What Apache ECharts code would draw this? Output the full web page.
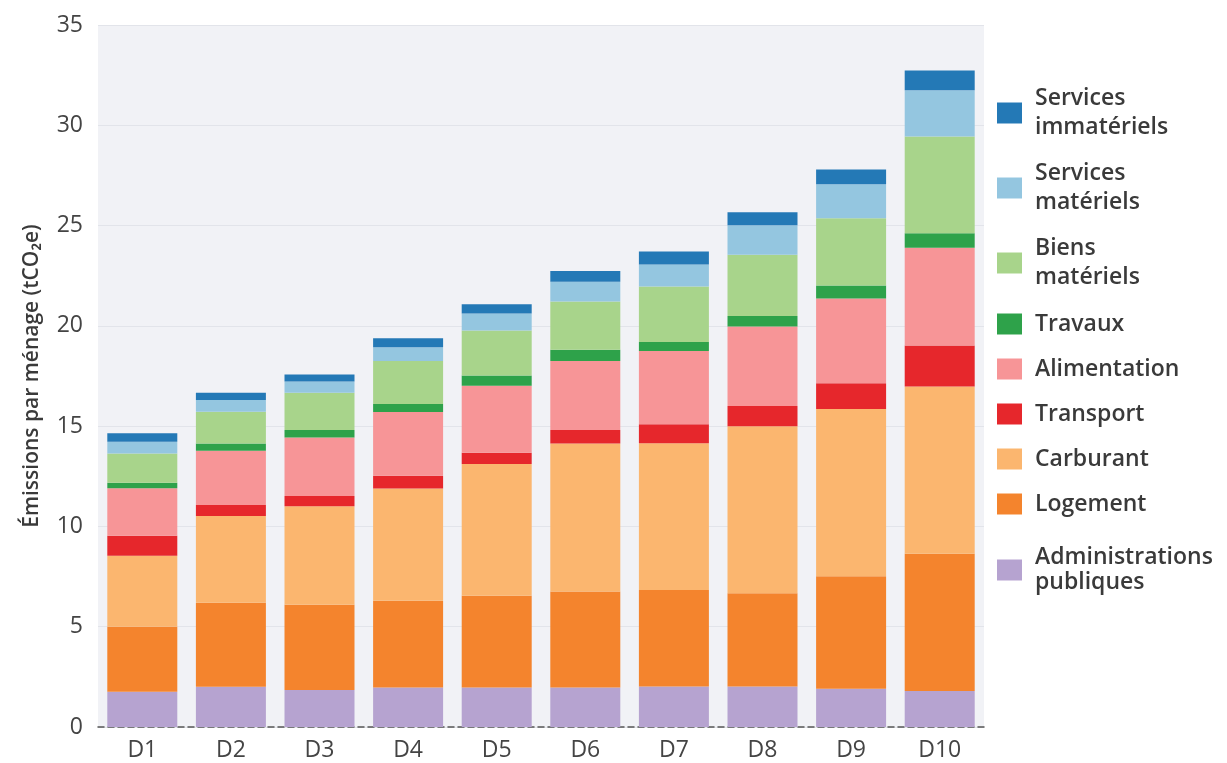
<!DOCTYPE html>
<html>
<head>
<meta charset="utf-8">
<script src="https://cdn.jsdelivr.net/npm/echarts@6/dist/echarts.min.js"></script>
<style>html,body{margin:0;padding:0;background:#fff;}#c{width:1227px;height:763px;}</style>
</head>
<body>
<div id="c"></div>
<script>
const categories = ['D1','D2','D3','D4','D5','D6','D7','D8','D9','D10'];
const admin       = [1.76, 2.01, 1.85, 1.97, 1.97, 1.97, 2.02, 2.02, 1.91, 1.80];
const logement    = [3.24, 4.19, 4.24, 4.33, 4.58, 4.78, 4.81, 4.65, 5.60, 6.84];
const carburant   = [3.54, 4.32, 4.92, 5.59, 6.56, 7.38, 7.32, 8.32, 8.34, 8.34];
const transport   = [1.00, 0.55, 0.51, 0.64, 0.56, 0.68, 0.95, 1.02, 1.29, 2.04];
const alimentation= [2.36, 2.70, 2.91, 3.17, 3.34, 3.44, 3.65, 3.96, 4.22, 4.87];
const travaux     = [0.28, 0.37, 0.38, 0.40, 0.51, 0.56, 0.45, 0.52, 0.65, 0.73];
const biens       = [1.46, 1.58, 1.86, 2.15, 2.25, 2.41, 2.76, 3.06, 3.35, 4.82];
const servMat     = [0.58, 0.58, 0.56, 0.68, 0.85, 0.98, 1.10, 1.47, 1.70, 2.31];
const servImmat   = [0.42, 0.37, 0.34, 0.45, 0.46, 0.54, 0.65, 0.64, 0.73, 0.98];
const yTicks = [0, 5, 10, 15, 20, 25, 30, 35];

const seriesDefs = [
  ['Administrations publiques', admin, '#b6a3d0'],
  ['Logement', logement, '#f4842d'],
  ['Carburant', carburant, '#fbb66f'],
  ['Transport', transport, '#e6272c'],
  ['Alimentation', alimentation, '#f79597'],
  ['Travaux', travaux, '#2ea24a'],
  ['Biens matériels', biens, '#a8d48b'],
  ['Services matériels', servMat, '#94c6e0'],
  ['Services immatériels', servImmat, '#2479b6']
];

const font = '"Open Sans", "Noto Sans", sans-serif';
const legendText = {fontSize: 23, fontWeight: 600, color: '#3a3a3a', fontFamily: font, padding: [0, 0, 0, 8]};
const legendBase = {
  orient: 'vertical', left: 997, icon: 'rect', itemWidth: 25, itemHeight: 21,
  itemGap: 17, selectedMode: false, padding: 0,
  formatter: n => n.replace(' ', '\n')
};

const chart = echarts.init(document.getElementById('c'), null, {renderer: 'canvas'});
chart.setOption({
  animation: false,
  backgroundColor: '#ffffff',
  grid: {left: 98, right: 243, top: 25, bottom: 36, show: true, backgroundColor: '#f1f2f6', borderWidth: 0},
  legend: [
    Object.assign({}, legendBase, {top: 84, itemGap: 17, data: ['Services immatériels','Services matériels','Biens matériels'], textStyle: Object.assign({}, legendText, {lineHeight: 29})}),
    Object.assign({}, legendBase, {top: 310, data: ['Travaux','Alimentation','Transport','Carburant','Logement'], textStyle: Object.assign({}, legendText, {lineHeight: 28})}),
    Object.assign({}, legendBase, {top: 545, data: ['Administrations publiques'], textStyle: Object.assign({}, legendText, {lineHeight: 25})})
  ],
  xAxis: {
    type: 'category', data: categories,
    axisLine: {show: true, lineStyle: {color: '#555', width: 1.5, type: [6, 4]}},
    axisTick: {show: false},
    axisLabel: {fontSize: 23, color: '#444', margin: 12, fontFamily: font}
  },
  yAxis: {
    type: 'value', min: yTicks[0], max: yTicks[yTicks.length - 1], interval: 5,
    name: 'Émissions par ménage (tCO₂e)', nameLocation: 'middle', nameGap: 55,
    nameTextStyle: {fontSize: 21, fontWeight: 600, color: '#3a3a3a', fontFamily: font},
    axisLine: {show: false}, axisTick: {show: false},
    axisLabel: {fontSize: 23, color: '#444', margin: 15, fontFamily: font},
    splitLine: {lineStyle: {color: '#e2e4ea', width: 1}}
  },
  series: seriesDefs.map(([name, data, color]) => ({
    name, type: 'bar', stack: 'total', data, barWidth: 70,
    itemStyle: {color}, emphasis: {disabled: true}
  }))
});
</script>
</body>
</html>
